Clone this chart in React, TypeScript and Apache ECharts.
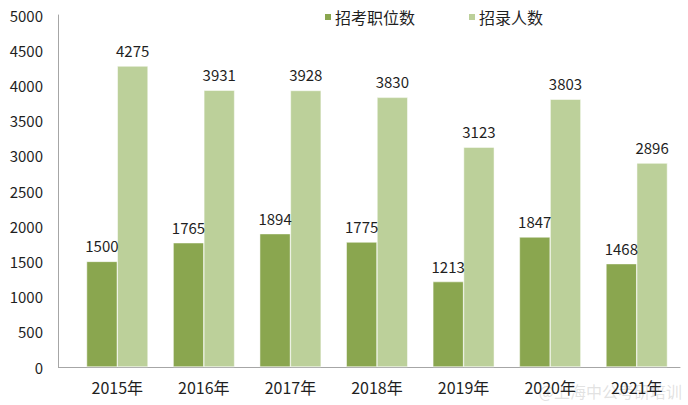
import React, { useEffect, useRef } from "react";
import * as echarts from "echarts";

const categories = ["2015年", "2016年", "2017年", "2018年", "2019年", "2020年", "2021年"];
const positions = [1500, 1765, 1894, 1775, 1213, 1847, 1468];
const recruits = [4275, 3931, 3928, 3830, 3123, 3803, 2896];
const seriesNames = ["招考职位数", "招录人数"];

const FONT = "'Noto Sans CJK SC', 'Noto Sans', sans-serif";
const TEXT = "#1f1f1f";

export default function App() {
  const ref = useRef<HTMLDivElement>(null);
  useEffect(() => {
    if (!ref.current) return;
    const chart = echarts.init(ref.current, null, { renderer: "svg" });
    const label = {
      show: true,
      position: "top",
      distance: 8,
      color: TEXT,
      fontSize: 15,
      fontFamily: FONT,
    };
    chart.setOption({
      animation: false,
      backgroundColor: "#ffffff",
      textStyle: { fontFamily: FONT },
      legend: {
        left: 318,
        top: 4,
        itemWidth: 8,
        itemHeight: 8,
        itemGap: 52,
        icon: "rect",
        textStyle: { fontSize: 16, color: TEXT, fontFamily: FONT, padding: [0, 0, 0, -2] },
        data: seriesNames,
      },
      grid: { left: 74, right: 8, top: 15, bottom: 38, containLabel: false },
      xAxis: {
        type: "category",
        data: categories,
        axisLine: { show: true, lineStyle: { color: "#a6a6a6", width: 1 } },
        axisTick: { show: false },
        axisLabel: { color: TEXT, fontSize: 16, fontFamily: FONT, margin: 12 },
      },
      yAxis: {
        type: "value",
        min: 0,
        max: 5000,
        interval: 500,
        offset: 16,
        axisLine: { show: true, lineStyle: { color: "#a6a6a6", width: 1 } },
        axisTick: { show: false },
        splitLine: { show: false },
        axisLabel: {
          color: TEXT,
          fontSize: 15,
          fontFamily: FONT,
          margin: 15,
          formatter: (v: number) => String(v),
        },
      },
      graphic: [
        {
          type: "line",
          shape: { x1: 58, y1: 367.5, x2: 74, y2: 367.5 },
          style: { stroke: "#a6a6a6", lineWidth: 1 },
          silent: true,
        },
        {
          type: "text",
          right: 6,
          bottom: 6,
          style: {
            text: "@上海中公考研培训",
            fill: "rgba(190,190,190,0.45)",
            fontSize: 16,
            fontFamily: FONT,
          },
          silent: true,
        },
      ],
      series: [
        {
          name: seriesNames[0],
          type: "bar",
          data: positions,
          barGap: "0%",
          barCategoryGap: "29%",
          itemStyle: { color: "#8aa64f", borderColor: "#ffffff", borderWidth: 0.5 },
          label,
        },
        {
          name: seriesNames[1],
          type: "bar",
          data: recruits,
          itemStyle: { color: "#bcd09a", borderColor: "#ffffff", borderWidth: 0.5 },
          label,
        },
      ],
    });
    return () => chart.dispose();
  }, []);
  return <div ref={ref} style={{ width: 688, height: 405, position: "absolute", left: 0, top: 0 }} />;
}
